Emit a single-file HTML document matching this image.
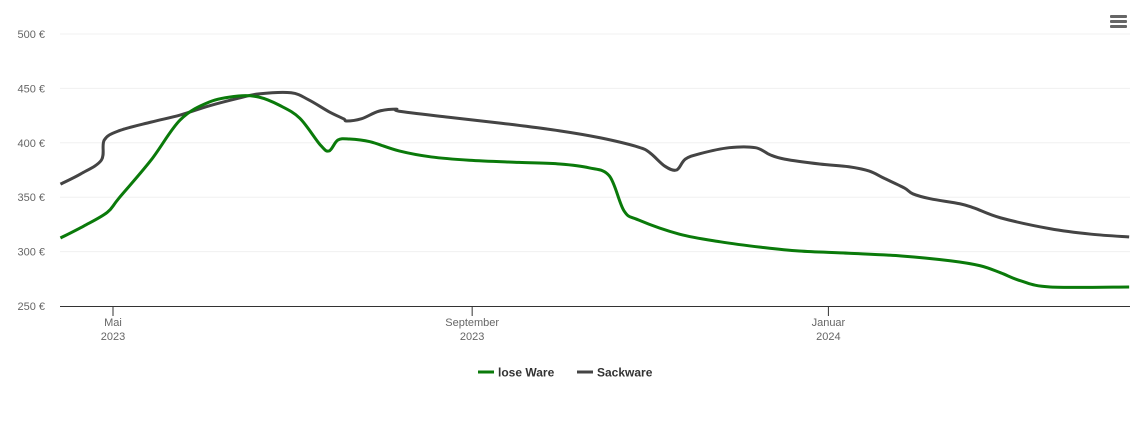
<!DOCTYPE html>
<html><head><meta charset="utf-8"><style>
body{margin:0;background:#fff;font-family:"Liberation Sans",sans-serif}
svg text{font-family:"Liberation Sans",sans-serif}
</style></head><body>
<svg id="chart" width="1140" height="434" xmlns="http://www.w3.org/2000/svg">
<g id="grid"></g>
<g id="xaxis"></g>
<g id="series"></g>
<g fill="#666">
<rect x="1110" y="15" width="17" height="3" rx="1"/><rect x="1110" y="20" width="17" height="3" rx="1"/><rect x="1110" y="25" width="17" height="3" rx="1"/>
</g>
<g>
<g>
<line x1="478" y1="372" x2="494" y2="372" stroke="#0a7a0a" stroke-width="3"/>
<text x="498" y="376.5" font-size="12" font-weight="bold" fill="#333">lose Ware</text></g>
<g>
<line x1="577" y1="372" x2="593" y2="372" stroke="#444" stroke-width="3"/>
<text x="597" y="376.5" font-size="12" font-weight="bold" fill="#333">Sackware</text></g>
</g>
</svg>
<script>
const yTicks=[250,300,350,400,450,500];
const xTickDays=[0,123,245];
const xTickLabels=[["Mai","2023"],["September","2023"],["Januar","2024"]];
const loseDays=[-18,-10,-2,2,13,23,33,43,50,57,64,71,74,77,81,88,98,109,122,139,153,163,170,175,180,194,208,222,235,252,270,287,297,304,311,321,348];
const loseVals=[312.5,323.5,336,349,384,421,437.5,443,442,434.5,422.5,398,392.5,402.5,403.5,401,392.5,387,384,382,380.5,377,369.5,337.5,329,316,309,304,300.5,298.5,296,291.5,287,280.5,273,267.5,267.5];
const sackDays=[-18,-11,-4,-3,2,13,23,33,43,50,61,67,74,79,80,85,91,97,98,115,133,153,167,180,184,189,193,196,201,211,220,225,230,242,252,259,264,271,274,280,290,295,304,321,335,348];
const sackVals=[362,371.5,384,402.5,411,419,425.5,434,441,445,446,439.5,428.5,422,420,422,429,431,429,423.5,418,411,404.5,396,390.5,378.5,375,385,390,395.5,395.5,389,385,380.5,378,374,367.5,358.5,353,348.5,344,340,331,321,316,313.5];
const X=d=>113+d*2.92, Y=v=>306-(v-250)*272/250;
const NS="http://www.w3.org/2000/svg";
function mk(t,a,p){const e=document.createElementNS(NS,t);for(const k in a)e.setAttribute(k,a[k]);p.appendChild(e);return e;}
const grid=document.getElementById('grid');
yTicks.forEach(v=>{
 if(v>250){const l=mk('line',{x1:60,x2:1130,y1:Y(v),y2:Y(v),stroke:'#f0f0f0','stroke-width':1},grid);
 
 }
 const t=mk('text',{x:45,y:Y(v)+4,'text-anchor':'end','font-size':11,fill:'#666'},grid);
 t.textContent=v+' €';
 
 
});
const xa=document.getElementById('xaxis');
const al=mk('line',{x1:60,x2:1130,y1:306.5,y2:306.5,stroke:'#333','stroke-width':1},xa);


xTickDays.forEach((d,i)=>{
 mk('line',{x1:X(d),x2:X(d),y1:306,y2:316,stroke:'#333'},xa);
 const t=mk('text',{x:X(d),y:326,'text-anchor':'middle','font-size':11,fill:'#666'},xa);
 
 
 xTickLabels[i].forEach((s,j)=>{const ts=mk('tspan',{x:X(d),dy:j?14:0},t);ts.textContent=s;});
});
function path(ds,vs){
 const p=ds.map((d,i)=>[X(d),Y(vs[i])]);
 let s='M'+p[0][0]+','+p[0][1];
 for(let i=0;i<p.length-1;i++){
  const p0=p[i-1]||p[i],p1=p[i],p2=p[i+1],p3=p[i+2]||p2;
  const c1=[p1[0]+(p2[0]-p0[0])/6,p1[1]+(p2[1]-p0[1])/6];
  const c2=[p2[0]-(p3[0]-p1[0])/6,p2[1]-(p3[1]-p1[1])/6];
  s+=`C${c1[0]},${c1[1]} ${c2[0]},${c2[1]} ${p2[0]},${p2[1]}`;
 }
 return s;
}
const sg=document.getElementById('series');
const s2=mk('path',{d:path(sackDays,sackVals),fill:'none',stroke:'#444','stroke-width':3,'stroke-linejoin':'round'},sg);


const s1=mk('path',{d:path(loseDays,loseVals),fill:'none',stroke:'#0a7a0a','stroke-width':3,'stroke-linejoin':'round'},sg);


</script>
</body></html>
